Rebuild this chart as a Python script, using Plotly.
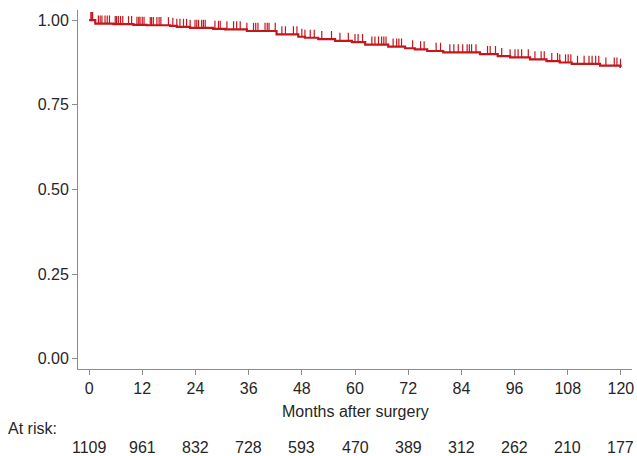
import numpy as np
import plotly.graph_objects as go

# Kaplan-Meier step function (months, survival after step)
step_months = [0, 1.4, 5.5, 10.0, 13.0, 18.3, 19.8, 22.8, 28.0, 30.7, 35.6, 42.3, 47.2,
               48.7, 51.7, 55.5, 59.3, 62.3, 67.5, 71.3, 73.5, 76.3, 79.9, 88.2, 92.2,
               95.0, 99.5, 103.2, 106.2, 108.9, 115.3, 119.9]
step_surv = [1.000, 0.990, 0.988, 0.986, 0.985, 0.983, 0.980, 0.977, 0.974, 0.973, 0.968,
             0.958, 0.951, 0.948, 0.944, 0.939, 0.935, 0.928, 0.922, 0.917, 0.914, 0.909,
             0.905, 0.900, 0.894, 0.890, 0.884, 0.879, 0.875, 0.871, 0.866, 0.862]
end_month = 120.0

# Censoring times (months)
censor_months = [0.4, 0.6, 0.8, 2.1, 2.5, 2.9, 3.6, 4.1, 4.6, 5.9, 6.2, 6.6, 7.1, 7.6,
                 8.9, 9.6, 10.8, 11.2, 11.5, 12.0, 12.4, 13.8, 14.1, 14.5, 15.3, 15.8,
                 16.2, 17.9, 18.9, 19.8, 20.5, 21.3, 22.0, 22.8, 23.9, 24.3, 24.7, 25.4,
                 25.8, 26.2, 28.4, 29.2, 29.6, 31.1, 32.6, 33.3, 34.1, 35.6, 37.1, 37.6,
                 38.1, 39.7, 40.2, 40.6, 42.0, 43.5, 44.3, 46.1, 46.9, 48.0, 48.7, 49.9,
                 50.8, 52.5, 54.7, 56.6, 58.5, 60.0, 60.7, 61.7, 63.8, 64.5, 65.3, 66.0,
                 66.5, 67.0, 68.6, 69.4, 69.9, 70.5, 73.0, 74.8, 75.6, 78.3, 79.3, 81.4,
                 82.3, 83.3, 84.3, 85.3, 85.8, 86.3, 87.3, 89.9, 90.5, 91.7, 93.1, 95.0,
                 96.1, 96.8, 97.6, 99.1, 100.6, 102.0, 102.7, 104.4, 105.7, 106.2, 107.5,
                 108.1, 108.7, 110.2, 111.7, 112.8, 113.5, 114.3, 115.0, 116.6, 118.5,
                 119.1, 119.9]

tick_months = [0, 12, 24, 36, 48, 60, 72, 84, 96, 108, 120]
at_risk = [1109, 961, 832, 728, 593, 470, 389, 312, 262, 210, 177]
y_ticks = [0, 0.25, 0.5, 0.75, 1.0]
y_ticktext = ["0.00", "0.25", "0.50", "0.75", "1.00"]

RED = "#c4161c"
FONT = "Liberation Sans, Arial, sans-serif"
TXT = "#262626"
GREY = "#8c8c8c"

fig = go.Figure()

xs = list(step_months) + [end_month]
ys = list(step_surv) + [step_surv[-1]]
fig.add_trace(go.Scatter(x=xs, y=ys, mode="lines", line=dict(color=RED, width=2.2, shape="hv"),
                         hoverinfo="skip", showlegend=False))

sm = np.array(step_months)
ss = np.array(step_surv)
cx, cy = [], []
for t in censor_months:
    i = np.searchsorted(sm, t, side="right") - 1
    s = ss[max(i, 0)]
    cx += [t, t, None]
    cy += [s, s + 0.024, None]
fig.add_trace(go.Scatter(x=cx, y=cy, mode="lines", line=dict(color=RED, width=1.2),
                         hoverinfo="skip", showlegend=False))

W, H = 637, 456
ML, MR, MT, MB = 78, 5, 10, 87
PH = H - MT - MB

def py(pix):  # pixel y -> paper y
    return ((H - MB) - pix) / PH

def px(pix):  # pixel x -> paper x
    return (pix - ML) / (W - ML - MR)

annotations = []
for m, n in zip(tick_months, at_risk):
    annotations.append(dict(x=m, y=py(447), xref="x", yref="paper", text=str(n),
                            showarrow=False, xanchor="center", yanchor="middle",
                            font=dict(family=FONT, size=16, color=TXT)))
annotations.append(dict(x=60, y=py(411), xref="x", yref="paper", text="Months after surgery",
                        showarrow=False, xanchor="center", yanchor="middle",
                        font=dict(family=FONT, size=16, color=TXT)))
annotations.append(dict(x=px(6), y=py(428), xref="paper", yref="paper", text="At risk:",
                        showarrow=False, xanchor="left", yanchor="middle",
                        font=dict(family=FONT, size=16, color=TXT)))

fig.update_layout(
    width=W, height=H,
    margin=dict(l=ML, r=MR, t=MT, b=MB, autoexpand=False),
    plot_bgcolor="white", paper_bgcolor="white",
    annotations=annotations,
    font=dict(family=FONT, size=16, color=TXT),
    xaxis=dict(range=[-2.5, 122.5], tickvals=tick_months, showline=True, linecolor=GREY,
               linewidth=1, ticks="outside", ticklen=5, tickcolor=GREY, showgrid=False,
               zeroline=False, tickfont=dict(family=FONT, size=16, color=TXT)),
    yaxis=dict(range=[-0.03, 1.03], tickvals=y_ticks, ticktext=y_ticktext, showline=True,
               linecolor=GREY, linewidth=1, ticks="outside", ticklen=5, tickcolor=GREY,
               showgrid=False, zeroline=False, tickfont=dict(family=FONT, size=16, color=TXT)),
)

fig.write_html("out.html", config={"displayModeBar": False},
               post_script="document.body.style.margin='0';document.body.style.overflow='hidden';")
